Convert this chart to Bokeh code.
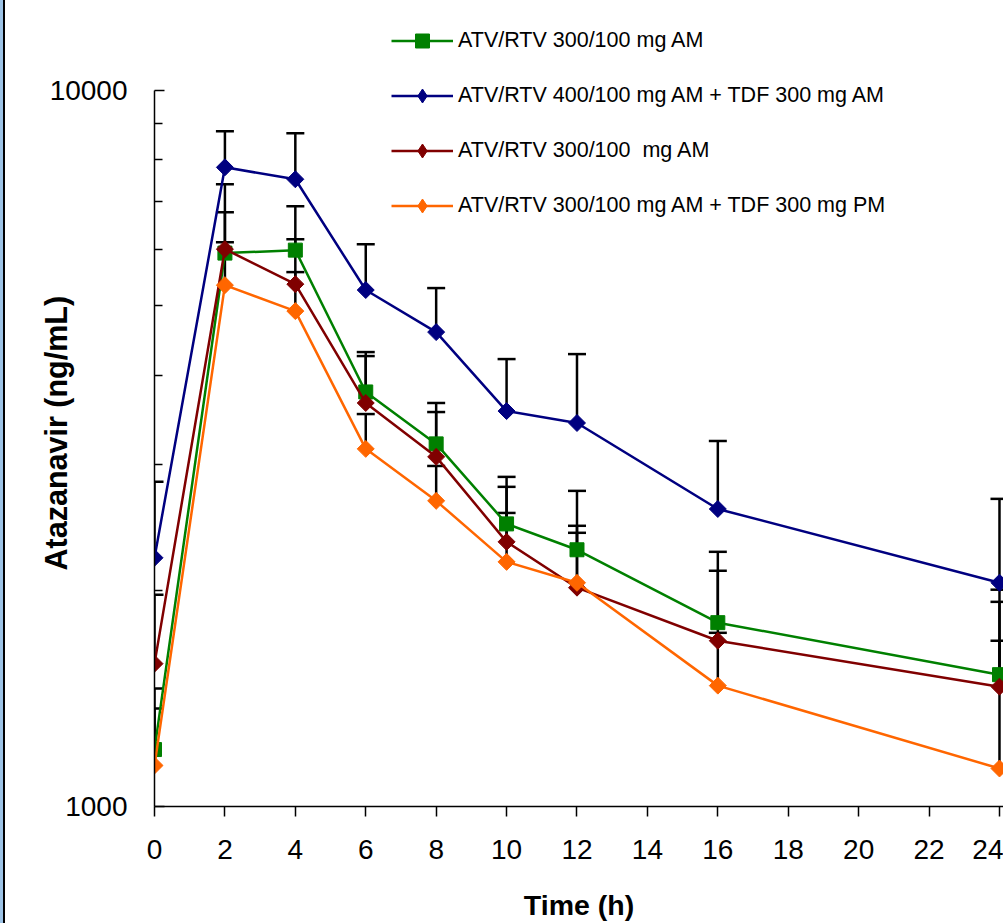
import math
from bokeh.plotting import figure
from bokeh.models import (Range1d, FixedTicker, PrintfTickFormatter, Whisker, TeeHead,
                          ColumnDataSource, Legend, LegendItem, InlineStyleSheet)
from bokeh.embed import file_html
from bokeh.resources import INLINE

# ---------------- data ----------------
times = [0, 2, 4, 6, 8, 10, 12, 16, 24]
x_ticks = [0, 2, 4, 6, 8, 10, 12, 14, 16, 18, 20, 22, 24]
y_major = [1000, 10000]
y_minor = [2000, 3000, 4000, 5000, 6000, 7000, 8000, 9000]

labels = ["ATV/RTV 300/100 mg AM",
          "ATV/RTV 400/100 mg AM + TDF 300 mg AM",
          "ATV/RTV 300/100  mg AM",
          "ATV/RTV 300/100 mg AM + TDF 300 mg PM"]

green_mean = [1201, 5926, 5983, 3792, 3209, 2481, 2283, 1806, 1528]
green_upper = [1461, 6757, 6891, 4311, 3660, 2886, 2759, 2268, 1931]

blue_mean = [2225, 7808, 7514, 5263, 4597, 3566, 3432, 2603, 2053]
blue_upper = [2841, 8766, 8710, 6099, 5296, 4215, 4283, 3239, 2689]

red_mean = [1583, 6002, 5363, 3660, 3078, 2342, 2021, 1704, 1470]
red_upper = [1976, 7392, 6196, 4256, 3555, 2795, 2466, 2134, 2008]

orange_mean = [1141, 5346, 4918, 3158, 2672, 2196, 2053, 1475, 1130]
orange_upper = [1370, 6138, 5575, 3532, 2989, 2570, 2411, 1748, 1704]

colors = ["#008000", "#000080", "#800000", "#FF6600"]
markers = ["square", "diamond", "diamond", "diamond"]

FONT = "Liberation Sans"

# y range top chosen so that 10000 sits 90 px below the top edge (717 px per decade)
Y_TOP = 10 ** (4 + 90 / 717)

p = figure(width=1003, height=923,
           x_range=Range1d(0, 24.114), y_range=Range1d(1000, Y_TOP),
           y_axis_type="log", output_backend="svg", toolbar_location=None,
           min_border_left=154, min_border_right=0, min_border_top=0,
           min_border_bottom=116)
p.outline_line_color = None
p.xgrid.visible = False
p.ygrid.visible = False
p.background_fill_color = "white"
p.border_fill_color = None
p.stylesheets = [InlineStyleSheet(css=":host { background: white; box-shadow: inset 3px 0 0 #9DC3E6, inset 5px 0 0 #000000; }")]

# axes
p.xaxis.ticker = FixedTicker(ticks=x_ticks)
p.xaxis.major_tick_in = 0
p.xaxis.major_tick_out = 10
p.xaxis.major_label_standoff = 23
p.xaxis.axis_label = "Time (h)"
p.xaxis.axis_label_standoff = 27

p.yaxis.ticker = FixedTicker(ticks=y_major, minor_ticks=y_minor)
p.yaxis.formatter = PrintfTickFormatter(format="%d")
p.yaxis.bounds = (1000, 10000)
p.yaxis.major_tick_in = 10
p.yaxis.major_tick_out = 0
p.yaxis.minor_tick_in = 8
p.yaxis.minor_tick_out = 0
p.yaxis.major_label_standoff = 27
# trailing no-break spaces shift the centred title down to the reference position
p.yaxis.axis_label = "Atazanavir (ng/mL)" + "\u00a0" * 7
p.yaxis.axis_label_standoff = -26

for ax in (p.xaxis, p.yaxis):
    ax.axis_line_color = "black"
    ax.axis_line_width = 1.5
    ax.major_tick_line_color = "black"
    ax.major_tick_line_width = 1.5
    ax.minor_tick_line_color = "black"
    ax.minor_tick_line_width = 1.5
    ax.major_label_text_font = FONT
    ax.major_label_text_font_size = "28px"
    ax.major_label_text_color = "black"
    ax.axis_label_text_font = FONT
    ax.axis_label_text_font_style = "bold"
    ax.axis_label_text_color = "black"
p.xaxis.axis_label_text_font_size = "28.5px"
p.yaxis.axis_label_text_font_size = "30.5px"
p.xaxis.minor_tick_line_color = None

series = [(green_mean, green_upper), (blue_mean, blue_upper),
          (red_mean, red_upper), (orange_mean, orange_upper)]

# error bars (upper SD only)
for i, (mean, upper) in enumerate(series):
    src = ColumnDataSource(dict(t=times, m=mean, u=upper))
    w = Whisker(base="t", lower="m", upper="u", source=src, dimension="height",
                line_color="black", line_width=2.5,
                upper_head=TeeHead(size=18, line_color="black", line_width=2.5),
                lower_head=None)
    p.add_layout(w)

items = []
for i, (mean, upper) in enumerate(series):
    src = ColumnDataSource(dict(t=times, m=mean))
    lr = p.line("t", "m", source=src, line_color=colors[i], line_width=2.5)
    if markers[i] == "square":
        sr = p.scatter("t", "m", source=src, marker="square", size=14,
                       fill_color=colors[i], line_color=colors[i])
        items.append(LegendItem(label=labels[i], renderers=[lr, sr]))
    else:
        # diamond glyph (used by the legend), drawn beneath the rotated squares
        dg = p.scatter("t", "m", source=src, marker="diamond", size=13,
                       fill_color=colors[i], line_color=colors[i])
        p.scatter("t", "m", source=src, marker="square", size=12, angle=math.pi / 4,
                  fill_color=colors[i], line_color=colors[i])
        items.append(LegendItem(label=labels[i], renderers=[lr, dg]))

legend = Legend(items=items, location=(237, 583), orientation="vertical",
                glyph_width=62, glyph_height=35, label_height=35, spacing=20,
                padding=0, margin=0, border_line_color=None,
                background_fill_alpha=0, label_standoff=5,
                label_text_font=FONT, label_text_font_size="21.5px",
                label_text_color="black")
p.add_layout(legend)

open("out.html", "w").write(file_html(p, INLINE))
